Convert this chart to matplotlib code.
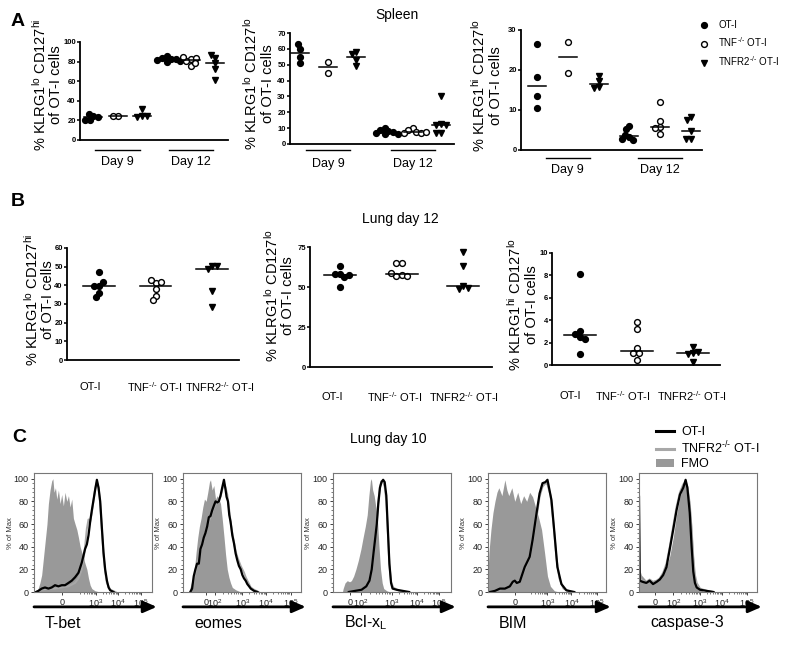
import numpy as np
import matplotlib
matplotlib.use("Agg")
import matplotlib.pyplot as plt
from matplotlib.lines import Line2D
from matplotlib.patches import Patch

plt.rcParams['font.family'] = ['Liberation Sans', 'DejaVu Sans']
plt.rcParams['mathtext.fontset'] = 'custom'
plt.rcParams['mathtext.rm'] = 'Liberation Sans'
plt.rcParams['mathtext.it'] = 'Liberation Sans:italic'
plt.rcParams['mathtext.bf'] = 'Liberation Sans:bold'

# ---------------- data ----------------
groups = ["OT-I", "TNF$^{\\text{-/-}}$ OT-I", "TNFR2$^{\\text{-/-}}$ OT-I"]
days = ["Day 9", "Day 12"]

# A: spleen, columns = day 9 (OT-I, TNF-/-, TNFR2-/-), day 12 (same)
spl_lo_hi = [[24, 27, 23, 20, 20], [24.5, 25], [31.5, 24.7, 23.7, 24.7],
             [86, 84, 83, 83, 82, 81, 80], [83, 81, 84, 85, 76, 78.6],
             [78.6, 84, 87, 72.9, 61]]
spl_lo_lo = [[60, 63, 55, 51], [52, 45], [58, 56.5, 53, 49.5],
             [10, 9, 8, 7.5, 7, 6, 6.5], [10, 9, 7.5, 7, 7, 7.5],
             [30.5, 12.5, 12, 12, 7, 7]]
spl_hi_lo = [[26.4, 18.2, 13.6, 10.4], [27.1, 19.2], [18.5, 17.2, 15.8, 15.5],
             [6.1, 5.2, 3.3, 3.7, 2.5, 2.7], [11.9, 7.3, 5.8, 5.4, 3.9],
             [8.3, 7.5, 4.75, 2.75, 2.75]]

# B: lung day 12
lung_lo_hi = [[46.9, 39.8, 39.8, 41.6, 35.8, 33.5], [41.2, 42.6, 41.6, 38.1, 34.4, 31.9],
              [50.5, 48.7, 50.5, 37.1, 28.3]]
lung_lo_lo = [[58.1, 58.1, 63.0, 56.0, 57.5, 49.7], [64.9, 64.9, 57.5, 57.1, 57.1, 58.6],
              [71.8, 63.0, 50.8, 48.7, 49.1]]
lung_hi_lo = [[8.16, 2.52, 3.06, 2.76, 2.31, 0.98], [3.8, 3.18, 1.48, 1.1, 1.04, 0.45],
              [1.63, 1.04, 1.0, 1.19, 0.3]]

# C: histograms, x = display channel (0-1000), y = % of max
tbet_fmo_x = [20, 35, 50, 65, 80, 95, 110, 122, 136, 150, 160, 170, 182, 193, 207, 221, 235, 249, 263, 278,
              292, 306, 320, 334, 348, 363, 377, 391, 405, 419, 433, 448, 462, 476, 490, 518, 560]
tbet_fmo_y = [0, 3, 8, 15, 30, 45, 60, 78, 90, 98, 100, 88, 92, 82, 90, 78, 86, 76, 88, 80,
              85, 75, 82, 65, 60, 55, 48, 40, 35, 30, 25, 20, 12, 6, 3, 1, 0]
tbet_ot1_x = [17, 37, 65, 93, 122, 150, 178, 207, 235, 263, 292, 320, 348, 377, 405, 433, 448, 462, 476, 490,
              504, 518, 533, 547, 561, 575, 589, 603, 618, 632, 646, 674]
tbet_ot1_y = [0, 1, 3, 4, 3, 4, 6, 5, 6, 6, 8, 10, 13, 17, 26, 38, 42, 50, 62, 72,
              81, 90, 99, 92, 80, 57, 35, 20, 10, 4, 1.5, 0]
tbet_r2_x = [17, 65, 122, 178, 235, 292, 348, 377, 405, 419, 433, 448, 462, 476, 490, 504, 518, 533, 547, 561,
             575, 589, 603, 618, 646, 690]
tbet_r2_y = [0, 2, 3, 3, 4, 5, 8, 12, 20, 28, 40, 56, 64, 62, 70, 80, 91, 97, 92, 78,
             55, 33, 18, 8, 2, 0]

eomes_fmo_x = [68, 82, 97, 111, 125, 139, 153, 168, 182, 196, 210, 224, 233, 247, 261, 276, 290, 304, 318, 332,
               347, 361, 375, 389, 403, 418, 446, 489]
eomes_fmo_y = [0, 8, 20, 35, 48, 58, 65, 75, 82, 80, 88, 97, 99, 90, 94, 82, 85, 82, 78, 65,
               49, 33, 20, 13, 8, 4, 2, 0]
eomes_ot1_x = [62, 77, 91, 105, 119, 134, 148, 162, 176, 190, 205, 219, 233, 247, 261, 276, 290, 304, 318, 332,
               347, 361, 369, 381, 392, 403, 418, 432, 446, 460, 474, 489, 503, 517, 531, 545, 560, 574, 602, 631]
eomes_ot1_y = [0, 3, 14, 20, 25, 25, 38, 42, 48, 52, 58, 66, 67, 72, 76, 80, 79, 80, 85, 92,
               99, 90, 84, 80, 68, 62, 50, 43, 34, 28, 23, 20, 15, 12, 10, 7, 5, 3, 1, 0]
eomes_r2_x = [62, 91, 119, 148, 176, 205, 233, 261, 290, 318, 332, 347, 361, 375, 392, 403, 418, 432, 446, 460,
              474, 489, 503, 517, 531, 545, 560, 574, 602, 640]
eomes_r2_y = [0, 10, 24, 36, 46, 58, 66, 74, 80, 84, 90, 96, 92, 86, 72, 62, 52, 44, 36, 31,
              27, 23, 20, 17, 13, 10, 7, 4, 2, 0]

bcl_fmo_x = [80, 86, 102, 121, 140, 156, 175, 194, 215, 237, 255, 274, 290, 304, 317, 325, 336, 349, 363, 376,
             390, 403, 417, 430, 457, 484]
bcl_fmo_y = [0, 3, 8, 10, 9, 10, 14, 20, 28, 38, 48, 58, 68, 85, 98, 100, 90, 85, 75, 65,
             40, 20, 8, 3, 1, 0]
bcl_ot1_x = [134, 188, 242, 282, 309, 328, 344, 355, 371, 384, 398, 411, 425, 438, 452, 465, 478, 492, 505, 538,
             591, 645]
bcl_ot1_y = [0, 1, 2, 5, 10, 20, 35, 45, 60, 78, 92, 97, 99, 97, 85, 55, 25, 8, 3, 2, 1, 0]
bcl_r2_x = [134, 200, 260, 300, 320, 340, 355, 371, 384, 398, 411, 425, 438, 452, 465, 478, 492, 510, 560, 620]
bcl_r2_y = [0, 1, 3, 7, 16, 30, 44, 62, 80, 93, 98, 97, 93, 80, 52, 24, 9, 4, 1, 0]

bim_fmo_x = [0, 8, 25, 42, 59, 76, 92, 118, 143, 160, 176, 202, 227, 252, 277, 302, 328, 353, 378, 403,
             428, 454, 479, 504, 529, 563, 605]
bim_fmo_y = [15, 35, 55, 70, 80, 88, 92, 85, 99, 90, 85, 92, 80, 88, 78, 85, 80, 88, 84, 75,
             66, 55, 35, 14, 5, 1, 0]
bim_ot1_x = [17, 59, 101, 143, 185, 210, 227, 244, 269, 311, 353, 378, 412, 437, 462, 487, 504, 538, 563, 588,
             622, 664, 731]
bim_ot1_y = [0, 1, 3, 3, 5, 9, 10, 8, 9, 22, 31, 46, 70, 87, 96, 97, 99, 81, 52, 22, 7, 1.5, 0]
bim_r2_x = [17, 101, 185, 227, 269, 311, 353, 378, 412, 437, 462, 487, 504, 530, 555, 580, 605, 640, 700]
bim_r2_y = [0, 2, 5, 9, 10, 20, 30, 44, 66, 84, 93, 96, 95, 85, 60, 30, 12, 3, 0]

casp_fmo_x = [0, 20, 62, 119, 176, 205, 233, 261, 290, 318, 347, 375, 389, 405, 430, 446, 460, 474, 489, 517, 560]
casp_fmo_y = [22, 15, 10, 10, 12, 15, 22, 32, 48, 68, 84, 94, 99, 92, 80, 60, 35, 15, 6, 2, 0]
casp_ot1_x = [0, 6, 30, 62, 90, 119, 150, 176, 205, 233, 261, 290, 318, 347, 375, 395, 410, 430, 446, 460,
              474, 489, 517, 574, 631]
casp_ot1_y = [84, 10, 9, 8, 10, 7, 9, 11, 15, 22, 38, 55, 72, 86, 92, 99, 92, 70, 40, 18, 8, 4, 2, 1, 0]
casp_r2_x = casp_ot1_x
casp_r2_y = [80, 12, 10, 9, 11, 9, 10, 12, 17, 25, 40, 58, 75, 88, 95, 97, 93, 78, 55, 30, 15, 8, 3, 1, 0]

markers_lab = ["T-bet", "eomes", "Bcl-x$_{\\mathrm{L}}$", "BIM", "caspase-3"]

# ---------------- figure ----------------
W, H = 787, 651
fig = plt.figure(figsize=(W / 100, H / 100), dpi=100)


def rect(x0, y0, x1, y1):
    return [x0 / W, 1 - y1 / H, (x1 - x0) / W, (y1 - y0) / H]


def ftext(x, y, s, **kw):
    kw.setdefault('ha', 'center')
    kw.setdefault('va', 'center')
    fig.text(x / W, 1 - y / H, s, **kw)


def swarm(vals, ppu, d):
    placed, offs = [], []
    for v in vals:
        y = v * ppu
        bad = []
        for py, pxx in placed:
            dy = abs(py - y)
            if dy < d:
                w = np.sqrt(d * d - dy * dy)
                bad.append((pxx - w, pxx + w))
        cands = sorted([0.0] + [e for iv in bad for e in iv], key=abs)
        for c in cands:
            if all(not (a + 1e-6 < c < b - 1e-6) for a, b in bad):
                break
        placed.append((y, c))
        offs.append(c)
    return np.array(offs)


styles = [dict(marker='o', mfc='black', mec='black'),
          dict(marker='o', mfc='white', mec='black', mew=1.0),
          dict(marker='v', mfc='black', mec='black')]


def dot_axes(px, first, step, ylim, yticks):
    x0, y0, x1, y1 = px
    ax = fig.add_axes(rect(x0, y0, x1, y1))
    ax.set_xlim((x0 - first) / step + 1, (x1 - first) / step + 1)
    ax.set_ylim(ylim)
    ax.patch.set_alpha(0)
    for s in ['top', 'right']:
        ax.spines[s].set_visible(False)
    for s in ['left', 'bottom']:
        ax.spines[s].set_linewidth(1.3)
    ax.set_xticks([])
    ax.set_yticks(yticks)
    ax.tick_params(axis='y', length=2.5, width=1.1, pad=0.5, labelsize=5.5)
    for t in ax.get_yticklabels():
        t.set_fontweight('bold')
    return ax


def draw_groups(ax, px, step, ylim, data, d, hw):
    ppu = (px[3] - px[1]) / (ylim[1] - ylim[0])
    for i, vals in enumerate(data):
        pos = i + 1
        off = swarm(vals, ppu, d) / step
        ax.plot(pos + off, vals, ls='none', ms=4.2, clip_on=False, **styles[i % 3])
        med = np.median(vals)
        ax.plot([pos - hw / step, pos + hw / step], [med, med], color='black', lw=1.1)


# ---- A: spleen ----
A = [dict(px=(80, 42, 228, 140), first=93, step=24.5, ylim=(0, 100), ticks=range(0, 101, 20),
          data=spl_lo_hi, lab="% KLRG1$^{\\mathrm{lo}}$ CD127$^{\\mathrm{hi}}$\nof OT-I cells",
          lx=47, ly=85, ul=150, dl=162),
     dict(px=(290, 33, 454, 144), first=300, step=28.2, ylim=(0, 70), ticks=range(0, 71, 10),
          data=spl_lo_lo, lab="% KLRG1$^{\\mathrm{lo}}$ CD127$^{\\mathrm{lo}}$\nof OT-I cells",
          lx=258, ly=84, ul=150, dl=164),
     dict(px=(521, 30, 702, 150), first=537, step=30.8, ylim=(0, 30), ticks=range(0, 31, 10),
          data=spl_hi_lo, lab="% KLRG1$^{\\mathrm{hi}}$ CD127$^{\\mathrm{lo}}$\nof OT-I cells",
          lx=486, ly=86, ul=158, dl=170)]

for p in A:
    ax = dot_axes(p['px'], p['first'], p['step'], p['ylim'], list(p['ticks']))
    draw_groups(ax, p['px'], p['step'], p['ylim'], p['data'], 5, 9)
    ftext(p['lx'], p['ly'], p['lab'], rotation=90, fontsize=10.5, linespacing=1.1)
    yr = p['ylim'][1] - p['ylim'][0]
    ah = p['px'][3] - p['px'][1]
    for k, day in enumerate(days):
        mid = 2 + 3 * k
        xs = [mid - 0.9 * 24.5 / p['step'], mid + 0.9 * 24.5 / p['step']]
        yl = p['ylim'][0] - (p['ul'] - p['px'][3]) * yr / ah
        ax.plot(xs, [yl, yl], color='black', lw=1.0, clip_on=False)
        xm = p['first'] + (mid - 1) * p['step']
        ftext(xm, p['dl'], day, fontsize=9)

handles = [Line2D([], [], ls='none', ms=4.2, **s) for s in styles]
fig.legend(handles, groups, loc='upper left', bbox_to_anchor=(699 / W, 1 - 20 / H), frameon=False,
           fontsize=7, handlelength=1.0, handletextpad=1.0, labelspacing=0.55, borderpad=0, borderaxespad=0)

ftext(397, 15, "Spleen", fontsize=10)
ftext(18, 22, "A", fontsize=14, fontweight='bold')

# ---- B: lung ----
B = [dict(px=(67, 248, 239, 360), first=99, step=56.5, ylim=(0, 60), ticks=range(0, 61, 10),
          data=lung_lo_hi, lab="% KLRG1$^{\\mathrm{lo}}$ CD127$^{\\mathrm{hi}}$\nof OT-I cells",
          lx=39, ly=300, cats=[90, 155, 220], cy=387),
     dict(px=(310, 247, 492, 367), first=340, step=61.5, ylim=(0, 75), ticks=[0, 25, 50, 75],
          data=lung_lo_lo, lab="% KLRG1$^{\\mathrm{lo}}$ CD127$^{\\mathrm{lo}}$\nof OT-I cells",
          lx=279, ly=296, cats=[332, 395, 464], cy=397),
     dict(px=(552, 253, 720, 365), first=580, step=56.5, ylim=(0, 10), ticks=range(0, 11, 2),
          data=lung_hi_lo, lab="% KLRG1$^{\\mathrm{hi}}$ CD127$^{\\mathrm{lo}}$\nof OT-I cells",
          lx=522, ly=305, cats=[570, 623, 692], cy=396)]

for p in B:
    ax = dot_axes(p['px'], p['first'], p['step'], p['ylim'], list(p['ticks']))
    draw_groups(ax, p['px'], p['step'], p['ylim'], p['data'], 5.5, 16)
    ftext(p['lx'], p['ly'], p['lab'], rotation=90, fontsize=10.5, linespacing=1.1)
    for cx, g in zip(p['cats'], groups):
        ftext(cx, p['cy'], g, fontsize=8)

ftext(400, 219, "Lung day 12", fontsize=10)
ftext(18, 202, "B", fontsize=14, fontweight='bold')

# ---- C: histograms ----
hists = [(tbet_fmo_x, tbet_fmo_y, tbet_r2_x, tbet_r2_y, tbet_ot1_x, tbet_ot1_y),
         (eomes_fmo_x, eomes_fmo_y, eomes_r2_x, eomes_r2_y, eomes_ot1_x, eomes_ot1_y),
         (bcl_fmo_x, bcl_fmo_y, bcl_r2_x, bcl_r2_y, bcl_ot1_x, bcl_ot1_y),
         (bim_fmo_x, bim_fmo_y, bim_r2_x, bim_r2_y, bim_ot1_x, bim_ot1_y),
         (casp_fmo_x, casp_fmo_y, casp_r2_x, casp_r2_y, casp_ot1_x, casp_ot1_y)]
ticks_c = [([235, 525, 710, 905], ['0', '10$^3$', '10$^4$', '10$^5$'], [335, 525, 710, 905]),
           ([192, 270, 503, 702, 912], ['0', '10$^2$', '10$^3$', '10$^4$', '10$^5$'], [270, 503, 702, 912]),
           ([148, 236, 497, 712, 900], ['0', '10$^2$', '10$^3$', '10$^4$', '10$^5$'], [236, 497, 712, 900]),
           ([227, 504, 706, 924], ['0', '10$^3$', '10$^4$', '10$^5$'], [300, 504, 706, 924]),
           ([139, 290, 517, 702, 915], ['0', '10$^2$', '10$^3$', '10$^4$', '10$^5$'], [290, 517, 702, 915])]
box_left = [34, 183, 333, 488, 639]

for i, (fx, fy, rx, ry, ox, oy) in enumerate(hists):
    x0 = box_left[i]
    ax = fig.add_axes(rect(x0, 473, x0 + 118, 592))
    ax.fill_between(fx, 0, fy, color='#999999', lw=0)
    ax.plot(rx, ry, color='#a8a8a8', lw=1.4)
    ax.plot(ox, oy, color='black', lw=1.6)
    ax.set_xlim(0, 1000)
    ax.set_ylim(0, 105)
    for s in ax.spines.values():
        s.set_color('#777777')
        s.set_linewidth(0.8)
    tk, tl, dec = ticks_c[i]
    ax.set_xticks(tk)
    ax.set_xticklabels(tl)
    minors = []
    for a, b in zip(dec[:-1], dec[1:]):
        minors += [a + np.log10(m) * (b - a) for m in range(2, 10)]
    ax.set_xticks(minors, minor=True)
    ax.set_yticks(range(0, 101, 20))
    ax.set_yticks(range(0, 101, 4), minor=True)
    ax.tick_params(which='major', length=2.5, width=0.6, pad=1.5, labelsize=6.5, colors='#222222')
    ax.tick_params(which='minor', length=1.3, width=0.5, colors='#444444')
    ftext(x0 - 24, 533, "% of Max", rotation=90, fontsize=5.5, color='#333333')
    ax.annotate("", xy=(1.04, -0.125), xytext=(0.0, -0.125), xycoords='axes fraction',
                arrowprops=dict(arrowstyle='-|>,head_length=0.8,head_width=0.35', lw=2.0, color='black',
                                shrinkA=0, shrinkB=0))
    ftext(x0 + 11, 623, markers_lab[i], fontsize=11.5, ha='left')

c_handles = [Line2D([], [], color='black', lw=2.2), Line2D([], [], color='#a8a8a8', lw=2.2),
             Patch(facecolor='#999999', edgecolor='none')]
fig.legend(c_handles, ['OT-I', 'TNFR2$^{\\text{-/-}}$ OT-I', 'FMO'], loc='upper left',
           bbox_to_anchor=(656 / W, 1 - 426 / H), frameon=False, fontsize=9, handlelength=1.4,
           handleheight=0.6, handletextpad=0.6, labelspacing=0.15, borderpad=0, borderaxespad=0)

ftext(388, 439, "Lung day 10", fontsize=10)
ftext(19, 438, "C", fontsize=14, fontweight='bold')

fig.savefig("out.png", dpi=100)
